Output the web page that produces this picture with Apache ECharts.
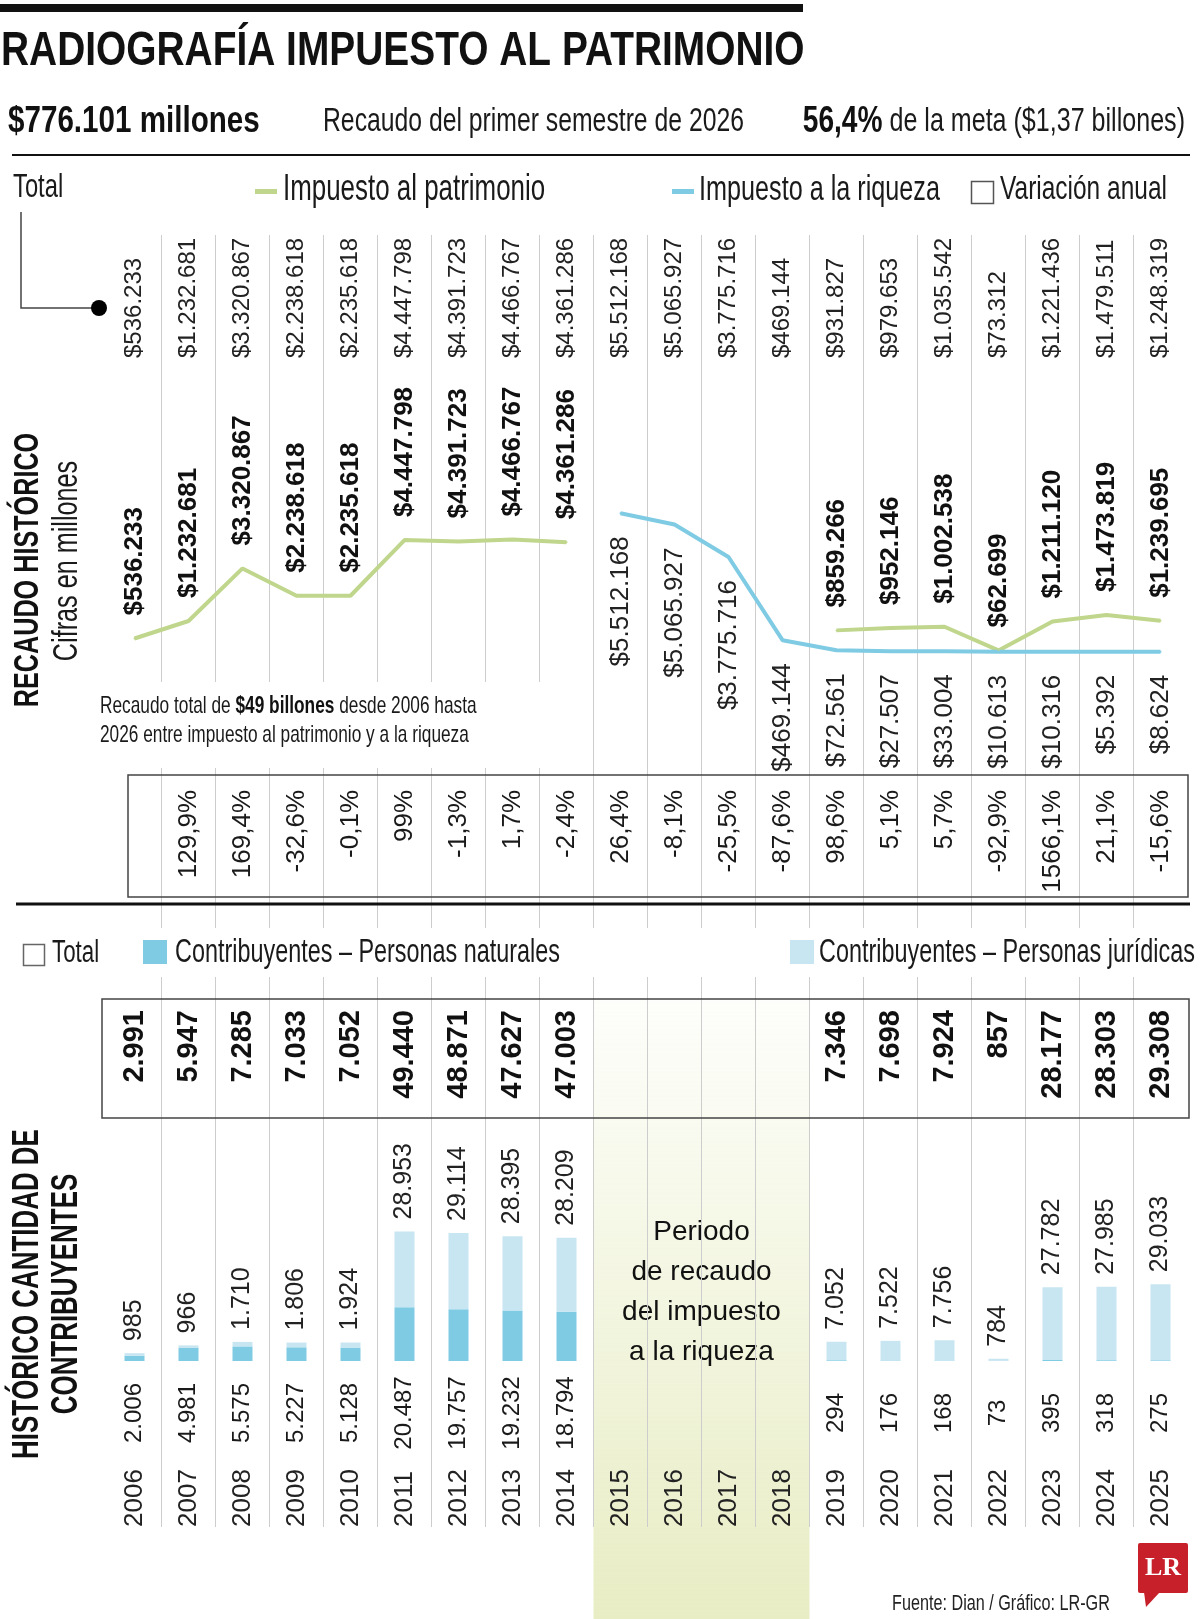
<!DOCTYPE html>
<html>
<head>
<meta charset="utf-8">
<title>Radiografía impuesto al patrimonio</title>
<script src="https://cdn.jsdelivr.net/npm/echarts@6/dist/echarts.min.js"></script>
<style>
  html, body { margin: 0; padding: 0; background: #fff; }
  #chart { width: 1200px; height: 1619px; }
</style>
</head>
<body>
<div id="chart"></div>
<script>
// datos (recaudo en millones de pesos)
var years = ['2006', '2007', '2008', '2009', '2010', '2011', '2012', '2013', '2014', '2015',
  '2016', '2017', '2018', '2019', '2020', '2021', '2022', '2023', '2024', '2025']
var totalRecaudo = [536233, 1232681, 3320867, 2238618, 2235618, 4447798, 4391723, 4466767, 4361286, 5512168,
  5065927, 3775716, 469144, 931827, 979653, 1035542, 73312, 1221436, 1479511, 1248319]
var patrimonio = [536233, 1232681, 3320867, 2238618, 2235618, 4447798, 4391723, 4466767, 4361286, null,
  null, null, null, 859266, 952146, 1002538, 62699, 1211120, 1473819, 1239695]
var riqueza = [null, null, null, null, null, null, null, null, null, 5512168,
  5065927, 3775716, 469144, 72561, 27507, 33004, 10613, 10316, 5392, 8624]
var variacion = ['', '129,9%', '169,4%', '-32,6%', '-0,1%', '99%', '-1,3%', '1,7%', '-2,4%', '26,4%',
  '-8,1%', '-25,5%', '-87,6%', '98,6%', '5,1%', '5,7%', '-92,9%', '1566,1%', '21,1%', '-15,6%']
// contribuyentes
var totalContrib = [2991, 5947, 7285, 7033, 7052, 49440, 48871, 47627, 47003, null,
  null, null, null, 7346, 7698, 7924, 857, 28177, 28303, 29308]
var naturales = [2006, 4981, 5575, 5227, 5128, 20487, 19757, 19232, 18794, null,
  null, null, null, 294, 176, 168, 73, 395, 318, 275]
var juridicas = [985, 966, 1710, 1806, 1924, 28953, 29114, 28395, 28209, null,
  null, null, null, 7052, 7522, 7756, 784, 27782, 27985, 29033]

var FONT = "'Liberation Sans', Arial, sans-serif"
var GREEN = '#bfd68c'
var BLUE = '#7fcbe4'
var NAT = '#7ecbe3'
var JUR = '#c8e6f1'
var INK = '#1a1a1a'
var L = 107.5
var R = 12.5
var NARROW = 0.72

function fmt (v) {
  return String(v).replace(/\B(?=(\d{3})+(?!\d))/g, '.')
}

var myChart = echarts.init(document.getElementById('chart'))

function hiddenY (i, max) {
  return { gridIndex: i, type: 'value', show: false, min: 0, max: max }
}
function labelAxis (i, position, labels, style) {
  return {
    gridIndex: i,
    type: 'category',
    data: years,
    position: position,
    axisLine: { show: false },
    axisTick: { show: false },
    splitLine: { show: false },
    axisLabel: Object.assign({
      interval: 0,
      hideOverlap: false,
      rotate: 90,
      margin: 2,
      fontSize: 26,
      color: INK,
      fontFamily: FONT,
      formatter: function (v, idx) { return labels[idx] }
    }, style || {})
  }
}
// texto condensado (escala horizontal)
function txt (x, y, text, size, opts) {
  opts = opts || {}
  return {
    type: 'text',
    z: 10,
    x: x,
    y: y,
    rotation: opts.rotation || 0,
    scaleX: opts.scale || NARROW,
    style: {
      text: text,
      font: (opts.bold ? 'bold ' : '') + size + 'px ' + FONT,
      lineHeight: opts.lineHeight,
      fill: opts.color || INK,
      textAlign: opts.align || 'left',
      align: opts.align || 'left',
      textVerticalAlign: 'middle',
      verticalAlign: 'middle',
      rich: opts.rich
    }
  }
}

var band0 = years.indexOf('2015')
var band1 = years.indexOf('2018') + 1

var option = {
  animation: false,
  textStyle: { fontFamily: FONT },
  grid: [
    // 0 lineas verticales
    { left: 161.5, right: 66.5, top: 235, height: 1292, outerBoundsMode: 'none' },
    // 1 totales arriba
    { left: L, right: R, top: 360, height: 10, outerBoundsMode: 'none' },
    // 2 lineas de recaudo
    { left: L, right: R, top: 501, height: 151, outerBoundsMode: 'none' },
    // 3 variacion anual
    { left: L, right: R, top: 770, height: 18, outerBoundsMode: 'none' },
    // 4 total contribuyentes
    { left: L, right: R, top: 990, height: 18, outerBoundsMode: 'none' },
    // 5 barras
    { left: L, right: R, top: 1230, height: 131, outerBoundsMode: 'none' },
    // 6 personas naturales
    { left: L, right: R, top: 1413, height: 10, outerBoundsMode: 'none' },
    // 7 años
    { left: L, right: R, top: 1527, height: 10, outerBoundsMode: 'none' },
    // 8 franja 2015-2018
    { left: L, right: R, top: 999, bottom: 0, outerBoundsMode: 'none' }
  ],
  xAxis: [
    {
      gridIndex: 0, type: 'value', min: 1, max: 19, interval: 1, z: 3,
      axisLine: { show: false }, axisTick: { show: false }, axisLabel: { show: false },
      splitLine: { show: true, lineStyle: { color: '#cdcdcd', width: 1 } }
    },
    labelAxis(1, 'top', totalRecaudo.map(function (v) { return '$' + fmt(v) }), { fontSize: 24, color: '#222' }),
    { gridIndex: 2, type: 'category', data: years, show: false },
    labelAxis(3, 'bottom', variacion),
    labelAxis(4, 'bottom', totalContrib.map(function (v) { return v == null ? '' : fmt(v) }),
      { fontSize: 29, fontWeight: 'bold', color: '#111' }),
    { gridIndex: 5, type: 'category', data: years, show: false },
    labelAxis(6, 'top', naturales.map(function (v) { return v == null ? '' : fmt(v) }),
      { align: 'center', margin: 0, fontSize: 24 }),
    labelAxis(7, 'top', years, { margin: 0, color: '#222' }),
    { gridIndex: 8, type: 'value', min: 0, max: years.length, show: false }
  ],
  yAxis: [
    hiddenY(0, 1), hiddenY(1, 1), hiddenY(2, 6000000), hiddenY(3, 1), hiddenY(4, 1),
    hiddenY(5, 50000), hiddenY(6, 1), hiddenY(7, 1), hiddenY(8, 1)
  ],
  series: [
    {
      name: 'Impuesto al patrimonio',
      type: 'line',
      xAxisIndex: 2,
      yAxisIndex: 2,
      z: 5,
      color: GREEN,
      data: patrimonio,
      symbol: 'circle',
      symbolSize: 2,
      showAllSymbol: true,
      connectNulls: false,
      lineStyle: { color: GREEN, width: 4 },
      label: {
        show: true,
        position: 'top',
        distance: 22,
        rotate: 90,
        align: 'left',
        verticalAlign: 'middle',
        fontSize: 26,
        fontWeight: 'bold',
        color: '#111',
        fontFamily: FONT,
        formatter: function (p) { return '$' + fmt(p.value) }
      }
    },
    {
      name: 'Impuesto a la riqueza',
      type: 'line',
      xAxisIndex: 2,
      yAxisIndex: 2,
      z: 5,
      color: BLUE,
      data: riqueza,
      symbol: 'circle',
      symbolSize: 2,
      showAllSymbol: true,
      connectNulls: false,
      lineStyle: { color: BLUE, width: 4 },
      label: {
        show: true,
        position: 'bottom',
        distance: 22,
        rotate: 90,
        align: 'right',
        verticalAlign: 'middle',
        fontSize: 26,
        color: '#222',
        fontFamily: FONT,
        formatter: function (p) { return '$' + fmt(p.value) }
      }
    },
    {
      name: 'Contribuyentes – Personas naturales',
      type: 'bar',
      xAxisIndex: 5,
      yAxisIndex: 5,
      z: 5,
      stack: 'c',
      barWidth: 20,
      color: NAT,
      data: naturales
    },
    {
      name: 'Contribuyentes – Personas jurídicas',
      type: 'bar',
      xAxisIndex: 5,
      yAxisIndex: 5,
      z: 5,
      stack: 'c',
      barWidth: 20,
      color: JUR,
      data: juridicas,
      label: {
        show: true,
        position: 'top',
        distance: 12,
        rotate: 90,
        align: 'left',
        verticalAlign: 'middle',
        fontSize: 25,
        color: '#222',
        fontFamily: FONT,
        formatter: function (p) { return fmt(p.value) }
      }
    },
    {
      name: 'franja',
      type: 'line',
      xAxisIndex: 8,
      yAxisIndex: 8,
      z: 0,
      data: [],
      markArea: {
        silent: true,
        z: 0,
        itemStyle: {
          // semitransparente para que se vean las lineas verticales
          color: new echarts.graphic.LinearGradient(0, 0, 0, 1, [
            { offset: 0, color: 'rgba(214,223,150,0.04)' },
            { offset: 1, color: 'rgba(214,223,150,0.56)' }
          ])
        },
        label: {
          show: true,
          position: 'insideTop',
          distance: 213,
          fontSize: 28,
          lineHeight: 40,
          align: 'center',
          color: '#111',
          fontFamily: FONT,
          formatter: 'Periodo\nde recaudo\ndel impuesto\na la riqueza'
        },
        data: [[{ xAxis: band0 }, { xAxis: band1 }]]
      }
    }
  ],
  graphic: {
    elements: [
      { type: 'rect', z: 10, shape: { x: 0, y: 4, width: 803, height: 8 }, style: { fill: '#111' } },
      txt(1, 52, 'RADIOGRAFÍA IMPUESTO AL PATRIMONIO', 48, { bold: true, scale: 0.81, color: '#111' }),
      txt(8, 122, '$776.101 millones', 37, { bold: true, scale: 0.8, color: '#111' }),
      txt(323, 122, 'Recaudo del primer semestre de 2026', 33, { scale: 0.75 }),
      txt(1185, 122, '{b|56,4%}{r| de la meta ($1,37 billones)}', 33, {
        scale: 0.76,
        align: 'right',
        rich: {
          b: { fontSize: 37, fontWeight: 'bold', fontFamily: FONT, fill: '#111', color: '#111' },
          r: { fontSize: 33, fontFamily: FONT, fill: INK, color: INK }
        }
      }),
      { type: 'line', z: 10, shape: { x1: 12, y1: 155, x2: 1190, y2: 155 }, style: { stroke: '#111', lineWidth: 2 } },
      // leyenda superior
      txt(13, 188, 'Total', 33),
      { type: 'rect', z: 10, shape: { x: 255, y: 189, width: 22, height: 5 }, style: { fill: GREEN } },
      txt(283, 190, 'Impuesto al patrimonio', 36),
      { type: 'rect', z: 10, shape: { x: 672, y: 189, width: 22, height: 5 }, style: { fill: BLUE } },
      txt(699, 190, 'Impuesto a la riqueza', 35),
      { type: 'rect', z: 10, shape: { x: 971.5, y: 181.5, width: 22, height: 22 }, style: { fill: '#fff', stroke: '#555', lineWidth: 1.5 } },
      txt(1000, 190, 'Variación anual', 34),
      { type: 'polyline', z: 10, shape: { points: [[21, 212], [21, 308], [97, 308]] }, style: { stroke: '#444', lineWidth: 1.5, fill: null } },
      { type: 'circle', z: 10, shape: { cx: 99, cy: 308, r: 8 }, style: { fill: '#000' } },
      // titulos laterales
      txt(28, 570, 'RECAUDO HISTÓRICO', 35, { bold: true, rotation: Math.PI / 2, align: 'center', color: '#111' }),
      txt(67, 561, 'Cifras en millones', 35, { rotation: Math.PI / 2, align: 'center' }),
      // nota
      { type: 'rect', z: 4, shape: { x: 95, y: 682, width: 470, height: 86 }, style: { fill: '#fff' } },
      txt(100, 721, '{r|Recaudo total de }{b|$49 billones}{r| desde 2006 hasta}\n{r|2026 entre impuesto al patrimonio y a la riqueza}', 24, {
        rich: {
          r: { fontSize: 24, lineHeight: 29, fontFamily: FONT, fill: INK, color: INK },
          b: { fontSize: 24, lineHeight: 29, fontWeight: 'bold', fontFamily: FONT, fill: '#111', color: '#111' }
        }
      }),
      { type: 'rect', z: 10, shape: { x: 128, y: 775, width: 1060, height: 122 }, style: { fill: null, stroke: '#444', lineWidth: 1.5 } },
      { type: 'line', z: 10, shape: { x1: 16, y1: 904, x2: 1190, y2: 904 }, style: { stroke: '#111', lineWidth: 3 } },
      // leyenda inferior
      { type: 'rect', z: 4, shape: { x: 10, y: 928, width: 1185, height: 49 }, style: { fill: '#fff' } },
      { type: 'rect', z: 10, shape: { x: 23.5, y: 944.5, width: 21, height: 21 }, style: { fill: '#fff', stroke: '#666', lineWidth: 1.5 } },
      txt(52, 953, 'Total', 31),
      { type: 'rect', z: 10, shape: { x: 143, y: 940, width: 24, height: 24 }, style: { fill: NAT } },
      txt(175, 953, 'Contribuyentes – Personas naturales', 32.5),
      { type: 'rect', z: 10, shape: { x: 790, y: 940, width: 24, height: 24 }, style: { fill: JUR } },
      txt(819, 953, 'Contribuyentes – Personas jurídicas', 32.5),
      { type: 'rect', z: 10, shape: { x: 102, y: 999, width: 1087, height: 119 }, style: { fill: null, stroke: '#444', lineWidth: 1.5 } },
      txt(48, 1294, 'HISTÓRICO CANTIDAD DE\nCONTRIBUYENTES', 36, { bold: true, rotation: Math.PI / 2, align: 'center', lineHeight: 39, color: '#111' }),
      // fuente y logo
      txt(892, 1604, 'Fuente: Dian / Gráfico: LR-GR', 22.5, { color: '#222' }),
      { type: 'rect', z: 10, shape: { x: 1138, y: 1543, width: 50, height: 50, r: 2 }, style: { fill: '#c8202a' } },
      { type: 'polygon', z: 10, shape: { points: [[1144, 1592], [1160, 1592], [1146, 1607]] }, style: { fill: '#c8202a' } },
      {
        type: 'text', z: 11, x: 1163, y: 1568,
        style: { text: 'LR', font: 'bold 26px "Liberation Serif", "DejaVu Serif", serif', fill: '#fff', textAlign: 'center', align: 'center', textVerticalAlign: 'middle', verticalAlign: 'middle' }
      }
    ]
  }
}

myChart.setOption(option, true)
</script>
</body>
</html>
